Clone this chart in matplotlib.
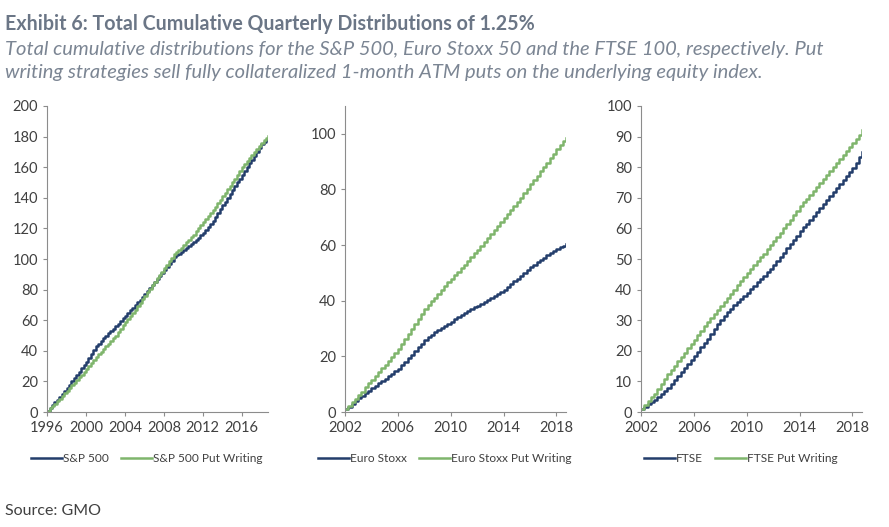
import numpy as np
import matplotlib
matplotlib.use('Agg')
from matplotlib import pyplot as plt

# -- Data: cumulative quarterly distributions -- #
sp_start = 1996
sp_500 = [1.0, 2.8, 4.5, 6.3,
          8.0, 10.0, 12.0, 14.0,
          16.0, 18.0, 20.0, 22.0,
          24.0, 26.3, 28.5, 30.8,
          33.0, 35.5, 38.0, 40.5,
          43.0, 44.8, 46.5, 48.3,
          50.0, 51.5, 53.0, 54.5,
          56.0, 57.8, 59.5, 61.3,
          63.0, 64.8, 66.5, 68.3,
          70.0, 71.8, 73.5, 75.3,
          77.0, 79.0, 81.0, 83.0,
          85.0, 87.0, 89.0, 91.0,
          93.0, 95.0, 97.0, 99.0,
          101.0, 102.3, 103.5, 104.8,
          106.0, 107.3, 108.5, 109.8,
          111.0, 112.5, 114.0, 115.5,
          117.0, 119.0, 121.0, 123.0,
          125.0, 127.5, 130.0, 132.5,
          135.0, 137.5, 140.0, 142.5,
          145.0, 147.5, 150.0, 152.5,
          155.0, 157.5, 160.0, 162.5,
          165.0, 167.5, 170.0, 172.5,
          175.0, 176.5, 177.5, 178.5]
sp_500_put = [1.0, 2.5, 4.0, 5.5,
              7.0, 8.8, 10.5, 12.3,
              14.0, 15.8, 17.5, 19.3,
              21.0, 22.8, 24.5, 26.3,
              28.0, 30.0, 32.0, 34.0,
              36.0, 37.8, 39.5, 41.3,
              43.0, 44.8, 46.5, 48.3,
              50.0, 52.3, 54.5, 56.8,
              59.0, 61.0, 63.0, 65.0,
              67.0, 69.3, 71.5, 73.8,
              76.0, 78.3, 80.5, 82.8,
              85.0, 87.3, 89.5, 91.8,
              94.0, 96.3, 98.5, 100.8,
              103.0, 104.5, 106.0, 107.5,
              109.0, 110.8, 112.5, 114.3,
              116.0, 118.0, 120.0, 122.0,
              124.0, 126.0, 128.0, 130.0,
              132.0, 134.3, 136.5, 138.8,
              141.0, 143.3, 145.5, 147.8,
              150.0, 152.5, 155.0, 157.5,
              160.0, 162.0, 164.0, 166.0,
              168.0, 170.0, 172.0, 174.0,
              176.0, 177.5, 179.0, 180.5]

eu_start = 2002
euro_stoxx = [1.0, 2.0, 3.0, 4.0,
              5.0, 5.9, 6.8, 7.6,
              8.5, 9.4, 10.3, 11.1,
              12.0, 12.9, 13.8, 14.6,
              15.5, 16.8, 18.0, 19.3,
              20.5, 21.9, 23.3, 24.6,
              26.0, 27.0, 27.8, 28.7,
              29.5, 30.3, 31.0, 31.8,
              32.5, 33.3, 34.0, 34.8,
              35.5, 36.2, 36.9, 37.6,
              38.3, 39.0, 39.6, 40.3,
              41.0, 41.8, 42.5, 43.3,
              44.0, 45.0, 46.0, 47.0,
              48.0, 49.0, 50.0, 51.0,
              52.0, 52.9, 53.8, 54.6,
              55.5, 56.3, 57.0, 57.8,
              58.5, 59.2, 59.8, 60.3]
euro_stoxx_put = [1.0, 2.3, 3.5, 4.8,
                  6.0, 7.4, 8.9, 10.3,
                  11.7, 13.0, 14.4, 15.7,
                  17.0, 18.4, 19.9, 21.3,
                  22.7, 24.5, 26.2, 28.0,
                  29.7, 31.5, 33.4, 35.2,
                  37.0, 38.4, 39.8, 41.1,
                  42.5, 43.9, 45.3, 46.6,
                  48.0, 49.3, 50.5, 51.8,
                  53.0, 54.4, 55.7, 57.1,
                  58.4, 59.8, 61.2, 62.6,
                  64.0, 65.5, 66.9, 68.4,
                  69.8, 71.2, 72.7, 74.1,
                  75.5, 77.1, 78.6, 80.2,
                  81.8, 83.4, 84.9, 86.5,
                  88.0, 89.6, 91.3, 92.9,
                  94.5, 96.0, 97.3, 98.5]

ftse_start = 2002
ftse = [1.0, 1.8, 2.5, 3.3,
        4.0, 5.0, 6.0, 7.0,
        8.0, 9.3, 10.5, 11.8,
        13.0, 14.3, 15.7, 17.0,
        18.3, 19.7, 21.2, 22.6,
        24.0, 25.6, 27.1, 28.7,
        30.2, 31.4, 32.6, 33.8,
        35.0, 36.0, 37.0, 38.0,
        39.0, 40.1, 41.3, 42.4,
        43.5, 44.6, 45.8, 46.9,
        48.0, 49.4, 50.8, 52.1,
        53.5, 54.9, 56.3, 57.6,
        59.0, 60.3, 61.5, 62.8,
        64.0, 65.3, 66.7, 68.0,
        69.3, 70.6, 71.9, 73.2,
        74.5, 75.8, 77.1, 78.4,
        79.7, 81.5, 83.3, 85.0]
ftse_put = [1.0, 2.3, 3.5, 4.8,
            6.0, 7.6, 9.1, 10.7,
            12.3, 13.7, 15.2, 16.6,
            18.0, 19.4, 20.9, 22.3,
            23.7, 25.2, 26.6, 28.1,
            29.5, 30.8, 32.2, 33.5,
            34.8, 36.1, 37.4, 38.7,
            40.0, 41.4, 42.7, 44.1,
            45.4, 46.7, 47.9, 49.2,
            50.5, 51.8, 53.2, 54.5,
            55.8, 57.2, 58.6, 60.1,
            61.5, 62.9, 64.4, 65.8,
            67.2, 68.5, 69.7, 71.0,
            72.3, 73.6, 74.9, 76.2,
            77.5, 78.8, 80.1, 81.4,
            82.7, 84.0, 85.2, 86.5,
            87.8, 89.2, 90.6, 92.0]

BLUE = '#233d6b'
GREEN = '#7fb56c'
TEXT = '#404040'

plt.rcParams['font.family'] = ['Lato', 'DejaVu Sans']

fig = plt.figure(figsize=(8.89, 5.27), dpi=100)

fig.text(0.006, 0.943, 'Exhibit 6: Total Cumulative Quarterly Distributions of 1.25%',
         fontsize=14.1, fontweight='bold', color='#6b7686', va='baseline')
fig.text(0.006, 0.896,
         'Total cumulative distributions for the S&P 500, Euro Stoxx 50 and the FTSE 100, respectively. Put',
         fontsize=14.5, style='italic', color='#7b8593', va='baseline')
fig.text(0.006, 0.852,
         'writing strategies sell fully collateralized 1-month ATM puts on the underlying equity index.',
         fontsize=14.5, style='italic', color='#7b8593', va='baseline')
fig.text(0.006, 0.03, 'Source: GMO', fontsize=11.5, color=TEXT, va='center')

panels = [
    (0.053, sp_start, sp_500, sp_500_put, 'S&P 500', 'S&P 500 Put Writing',
     (0, 200), np.arange(0, 201, 20), np.arange(1996, 2017, 4)),
    (0.388, eu_start, euro_stoxx, euro_stoxx_put, 'Euro Stoxx', 'Euro Stoxx Put Writing',
     (0, 110), np.arange(0, 101, 20), np.arange(2002, 2019, 4)),
    (0.721, ftse_start, ftse, ftse_put, 'FTSE', 'FTSE Put Writing',
     (0, 100), np.arange(0, 101, 10), np.arange(2002, 2019, 4)),
]

for left, start, base, put, lab1, lab2, ylim, yticks, xticks in panels:
    ax = fig.add_axes([left, 0.218, 0.249, 0.581])
    x = start + np.arange(len(base)) * 0.25
    ax.step(x, base, where='post', color=BLUE, lw=1.8, label=lab1)
    ax.step(x, put, where='post', color=GREEN, lw=1.8, label=lab2)
    ax.set_xlim(start, x[-1])
    ax.set_ylim(*ylim)
    ax.set_yticks(yticks)
    ax.set_xticks(xticks)
    for s in ['top', 'right']:
        ax.spines[s].set_visible(False)
    for s in ['left', 'bottom']:
        ax.spines[s].set_color('#8c8c8c')
        ax.spines[s].set_linewidth(0.8)
    ax.tick_params(labelsize=10.5, colors=TEXT, length=3, width=0.8, color='#8c8c8c')
    ax.legend(loc='upper center', bbox_to_anchor=(0.45, -0.1), ncol=2, frameon=False,
              fontsize=8.6, handlelength=2.6, handletextpad=0.1, columnspacing=1.0,
              labelcolor=TEXT)

fig.savefig('out.png', dpi=100)
